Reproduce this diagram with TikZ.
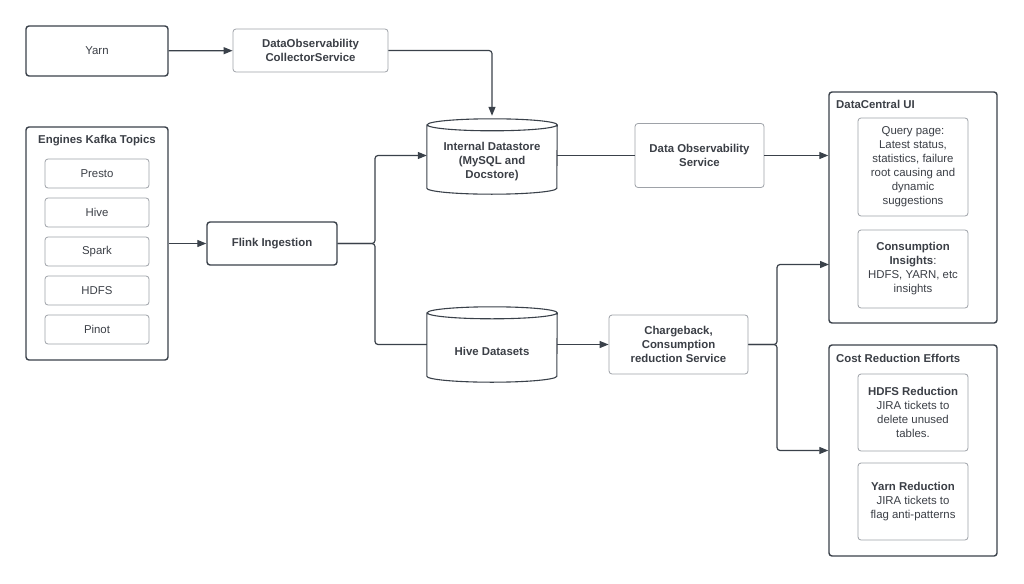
\documentclass[tikz,border=0pt]{standalone}
\usepackage{fontspec}
\setmainfont{Liberation Sans}
\usepackage{tikz}
\usetikzlibrary{arrows.meta, positioning}
\definecolor{inkdark}{HTML}{3A414A}
\definecolor{inklight}{HTML}{9EA2A8}
\definecolor{inktext}{HTML}{3B3F46}

% outline of a datastore drum round a named node
\newcommand{\drawstore}[1]{%
    \draw[storeline] ([yshift=-6pt]#1.north west) -- ([yshift=6pt]#1.south west)
        arc[start angle=180, end angle=360, x radius=65pt, y radius=6pt]
        -- ([yshift=-6pt]#1.north east)
        arc[start angle=0, end angle=360, x radius=65pt, y radius=6pt];%
}

\begin{document}
\begin{tikzpicture}[
    x=1pt, y=-1pt,
    font=\fontsize{11.4}{14}\selectfont,
    text=inktext,
    box/.style={
        draw=inklight,
        fill=white,
        rectangle,
        rounded corners=3pt,
        align=center,
        inner sep=0pt,
        line width=0.8pt
    },
    heavy/.style={
        box,
        draw=inkdark,
        line width=1.4pt
    },
    store/.style={
        rectangle,
        inner sep=0pt,
        minimum width=130pt,
        minimum height=75pt
    },
    storeline/.style={
        draw=inkdark,
        line width=1.1pt
    },
    storetext/.style={
        align=center,
        inner sep=0pt,
        font=\fontsize{11.4}{14}\selectfont\bfseries
    },
    entry/.style={
        box,
        minimum width=104pt,
        minimum height=29pt
    },
    detail/.style={
        box,
        minimum width=110pt
    },
    title/.style={
        font=\fontsize{11.4}{14}\selectfont\bfseries,
        inner sep=0pt
    },
    arrow/.style={
        -{Triangle[length=9pt, width=7pt]},
        line width=1.2pt,
        draw=inkdark,
        rounded corners=3pt
    },
    link/.style={
        line width=1.2pt,
        draw=inkdark,
        rounded corners=3pt
    }
]
\useasboundingbox (0,0) rectangle (1024,583);

% sources
\node[heavy, minimum width=142pt, minimum height=50pt] (yarn) at (97,51) {Yarn};
\node[box, minimum width=155pt, minimum height=43pt, font=\fontsize{11.4}{14}\selectfont\bfseries] (collector) at (310.5,50.5) {
    DataObservability\\
    CollectorService
};

\node[heavy, minimum width=142pt, minimum height=233pt] (engines) at (97,243.5) {};
\node[title] (enginestitle) at (97,141) {Engines Kafka Topics};
\node[entry] (presto) at (97,173.5) {Presto};
\node[entry, below=9.2pt of presto] (hive) {Hive};
\node[entry, below=9.2pt of hive] (spark) {Spark};
\node[entry, below=9.2pt of spark] (hdfs) {HDFS};
\node[entry, below=9.2pt of hdfs] (pinot) {Pinot};

\node[heavy, minimum width=130pt, minimum height=43pt, font=\fontsize{11.4}{14}\selectfont\bfseries] (flink) at (272,243.5) {Flink Ingestion};
\coordinate (fork) at (375,243.5);

% stores and services
\node[store] (idstore) at (492,156.5) {};
\drawstore{idstore}
\node[storetext] (idstoretext) at ([yshift=-5.5pt]idstore.center) {
    Internal Datastore\\
    (MySQL and\\
    Docstore)
};
\node[store] (hivesets) at (492,344.5) {};
\drawstore{hivesets}
\node[storetext] (hivesetstext) at ([yshift=-6.5pt]hivesets.center) {Hive Datasets};

\node[box, minimum width=129pt, minimum height=64pt, font=\fontsize{11.4}{14}\selectfont\bfseries] (dos) at (699.5,155.5) {
    Data Observability\\
    Service
};
\node[box, minimum width=139pt, minimum height=59pt, font=\fontsize{11.4}{14}\selectfont\bfseries] (charge) at (678.5,344.5) {
    Chargeback,\\
    Consumption\\
    reduction Service
};
\coordinate (fork2) at (777,344.5);

% consumers
\node[heavy, minimum width=168pt, minimum height=231pt] (dcui) at (913,207.5) {};
\node[title, anchor=west] (dcuititle) at (836,104) {DataCentral UI};
\node[detail, minimum height=98pt] (query) at (913,167) {
    Query page:\\
    Latest status,\\
    statistics, failure\\
    root causing and\\
    dynamic\\
    suggestions
};
\node[detail, minimum height=78pt] (insights) at (913,269) {
    \textbf{Consumption}\\
    \textbf{Insights}:\\
    HDFS, YARN, etc\\
    insights
};

\node[heavy, minimum width=168pt, minimum height=211pt] (cost) at (913,450.5) {};
\node[title, anchor=west] (costtitle) at (836,358) {Cost Reduction Efforts};
\node[detail, minimum height=77pt] (hdfsred) at (913,412.5) {
    \textbf{HDFS Reduction}\\
    JIRA tickets to\\
    delete unused\\
    tables.
};
\node[detail, minimum height=77pt] (yarnred) at (913,501.5) {
    \textbf{Yarn Reduction}\\
    JIRA tickets to\\
    flag anti-patterns
};
\coordinate (uiport) at (829,264.5);

\draw[arrow] (yarn) -- (collector);
\draw[arrow] (collector.east) -| ([yshift=3pt]idstore.north);
\draw[arrow] (engines) -- (flink);
\draw[arrow] (flink.east) -- (fork) |- ([yshift=1pt]idstore.west);
\draw[link] (flink.east) -- (fork) |- (hivesets.west);
\draw[link] ([yshift=1pt]idstore.east) -- ([yshift=1pt]idstore.east -| dos.west);
\draw[arrow] (dos) -- (dcui.west |- dos);
\draw[arrow] (hivesets) -- (charge);
\draw[arrow] (charge.east) -- (fork2) |- (uiport);
\draw[arrow] (charge.east) -- (fork2) |- (cost.west);

\end{tikzpicture}
\end{document}
